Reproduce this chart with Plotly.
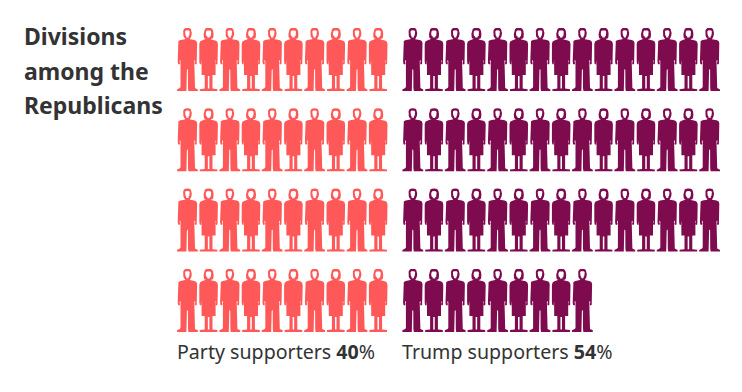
import plotly.graph_objects as go

# ---- chart data ----
series_names = ["Party supporters", "Trump supporters"]
series_values = [40, 54]          # percent, one figure per point
per_row = [10, 15]
series_colors = ["#FF5858", "#7F0B4F"]
title_lines = ["Divisions", "among the", "Republicans"]

# ---- pictogram layout (pixel space of the 742x392 page) ----
X0 = [187.4, 412.8]
Y0 = 28.0
DX = 21.2
DY = 80.3

# half outlines of each figure: (offset from centre, offset from top)
MAN = [(0, 0), (2, .1), (3.4, 1), (4.2, 2.8), (4.4, 5), (4, 8), (3, 9.8), (2.2, 10.4), (2.4, 11.2),
       (7, 12), (9, 13), (9.7, 15), (9.7, 33.5), (9.3, 36), (7.8, 36.5), (7.3, 35), (7.9, 33.5),
       (7.4, 31.8), (6.9, 33), (6.9, 59), (7.6, 60), (10.4, 61.4), (10.4, 63), (1, 63), (.6, 60),
       (.5, 42), (0, 41)]
WOMAN = [(0, 0), (2.2, .1), (3.7, 1), (4.6, 3), (5, 6), (4.7, 9.5), (3.6, 10.8), (2.4, 10.8), (2.4, 11.4),
         (6.8, 12.4), (8.6, 13.5), (9.3, 16), (9.3, 33.5), (8.9, 36), (7.5, 36.5), (7, 35), (7.6, 33.5),
         (7.1, 31.8), (7, 33), (7, 47), (3.9, 47), (3.9, 60.6), (8.8, 61.2), (8.8, 63), (0, 63), (0, 47)]
FACE_M = [(0, 2.3), (1.5, 2.4), (2.3, 3.4), (2.4, 5.5), (1.9, 7.2), (1.1, 8.2), (1.1, 9.4)]
FACE_W = [(0, 2.5), (1.7, 2.6), (2.6, 3.8), (2.8, 6.2), (2.2, 7.9), (1.2, 8.6), (1.2, 9.6)]
GAP_W = [(1.3, 48), (1.3, 60.6)]


def outline(half, cx, top):
    right = [(cx + a, top + b) for a, b in half]
    left = [(cx - a, top + b) for a, b in reversed(half)]
    return right + left


def poly_xy(points, xs, ys):
    xs.extend(p[0] for p in points)
    ys.extend(p[1] for p in points)
    xs.append(points[0][0])
    ys.append(points[0][1])
    xs.append(None)
    ys.append(None)


fig = go.Figure()
for s, count in enumerate(series_values):
    xs, ys, wx, wy = [], [], [], []
    for i in range(count):
        col = i % per_row[s]
        row = i // per_row[s]
        cx = X0[s] + col * DX
        top = Y0 + row * DY
        is_woman = col % 2 == 1
        poly_xy(outline(WOMAN if is_woman else MAN, cx, top), xs, ys)
        poly_xy(outline(FACE_W if is_woman else FACE_M, cx, top), wx, wy)
        if is_woman:
            w = 0.75
            a, b = GAP_W
            poly_xy([(cx - w, top + a[1]), (cx + w, top + a[1]), (cx + w, top + b[1]), (cx - w, top + b[1])], wx, wy)
    fig.add_trace(go.Scatter(x=xs, y=ys, mode="lines", fill="toself", fillcolor=series_colors[s],
                             line=dict(width=0, color=series_colors[s]), name=series_names[s], hoverinfo="skip"))
    fig.add_trace(go.Scatter(x=wx, y=wy, mode="lines", fill="toself", fillcolor="white",
                             line=dict(width=0, color="white"), showlegend=False, hoverinfo="skip"))

FONT = "Noto Sans"
INK = "#333333"
for k, line in enumerate(title_lines):
    fig.add_annotation(x=22, y=36 + k * 34.7, text=f"<b>{line}</b>", showarrow=False, xanchor="left", yanchor="middle",
                       font=dict(family=FONT, size=23, color=INK))
for s in range(2):
    fig.add_annotation(x=X0[s] - 12.4, y=351, text=f"{series_names[s]} <b>{series_values[s]}</b>%", showarrow=False,
                       xanchor="left", yanchor="middle", font=dict(family=FONT, size=19.6, color=INK))

# the browser's 8px page margin offsets the plot, so the axis ranges start at 8
fig.update_layout(width=742, height=392, margin=dict(l=0, r=0, t=0, b=0), showlegend=False,
                  plot_bgcolor="white", paper_bgcolor="white",
                  xaxis=dict(range=[8, 750], visible=False, fixedrange=True),
                  yaxis=dict(range=[400, 8], visible=False, fixedrange=True))
fig.write_html("out.html", config={"displayModeBar": False})
